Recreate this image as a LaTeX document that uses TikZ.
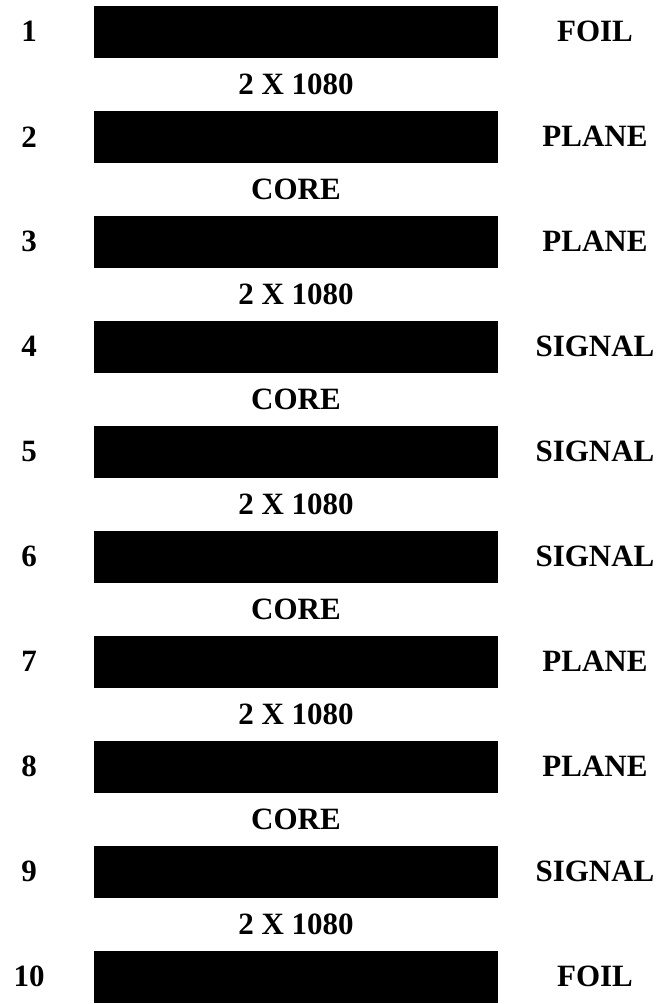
\documentclass[tikz,border=0pt]{standalone}
\usepackage{fontspec}
\setmainfont{Liberation Serif}
\usetikzlibrary{positioning}
\tikzset{
  layerbar/.style={
    rectangle, fill=black, draw=none, minimum width=404pt, minimum height=51.5pt,
    inner sep=0pt
  },
  layernum/.style={inner sep=0pt, font=\fontsize{31}{36}\selectfont\bfseries},
  layertype/.style={inner sep=0pt, font=\fontsize{31}{36}\selectfont\bfseries},
  gaplabel/.style={inner sep=0pt, font=\fontsize{31}{36}\selectfont\bfseries}
}

\begin{document}
\begin{tikzpicture}[x=1pt, y=-1pt]
    \useasboundingbox (0,0) rectangle (662,1004);

    % Layers
    \node[layerbar] (bar1)  at (296,31.75)  {};
    \node[layerbar] (bar2)  at (296,136.75) {};
    \node[layerbar] (bar3)  at (296,241.75) {};
    \node[layerbar] (bar4)  at (296,346.75) {};
    \node[layerbar] (bar5)  at (296,451.75) {};
    \node[layerbar] (bar6)  at (296,556.75) {};
    \node[layerbar] (bar7)  at (296,661.75) {};
    \node[layerbar] (bar8)  at (296,766.75) {};
    \node[layerbar] (bar9)  at (296,871.75) {};
    \node[layerbar] (bar10) at (296,976.75) {};

    % Layer numbers
    \node[layernum] (num1)  at (29,31.75)  {1};
    \node[layernum] (num2)  at (29,136.75) {2};
    \node[layernum] (num3)  at (29,241.75) {3};
    \node[layernum] (num4)  at (29,346.75) {4};
    \node[layernum] (num5)  at (29,451.75) {5};
    \node[layernum] (num6)  at (29,556.75) {6};
    \node[layernum] (num7)  at (29,661.75) {7};
    \node[layernum] (num8)  at (29,766.75) {8};
    \node[layernum] (num9)  at (29,871.75) {9};
    \node[layernum] (num10) at (29,976.75) {10};

    % Layer types
    \node[layertype] (type1)  at (595,31.75)  {FOIL};
    \node[layertype] (type2)  at (595,136.75) {PLANE};
    \node[layertype] (type3)  at (595,241.75) {PLANE};
    \node[layertype] (type4)  at (595,346.75) {SIGNAL};
    \node[layertype] (type5)  at (595,451.75) {SIGNAL};
    \node[layertype] (type6)  at (595,556.75) {SIGNAL};
    \node[layertype] (type7)  at (595,661.75) {PLANE};
    \node[layertype] (type8)  at (595,766.75) {PLANE};
    \node[layertype] (type9)  at (595,871.75) {SIGNAL};
    \node[layertype] (type10) at (595,976.75) {FOIL};

    % Dielectrics between layers
    \node[gaplabel] (gap1) at (296,84.25)  {2 X 1080};
    \node[gaplabel] (gap2) at (296,189.25) {CORE};
    \node[gaplabel] (gap3) at (296,294.25) {2 X 1080};
    \node[gaplabel] (gap4) at (296,399.25) {CORE};
    \node[gaplabel] (gap5) at (296,504.25) {2 X 1080};
    \node[gaplabel] (gap6) at (296,609.25) {CORE};
    \node[gaplabel] (gap7) at (296,714.25) {2 X 1080};
    \node[gaplabel] (gap8) at (296,819.25) {CORE};
    \node[gaplabel] (gap9) at (296,924.25) {2 X 1080};

\end{tikzpicture}
\end{document}
